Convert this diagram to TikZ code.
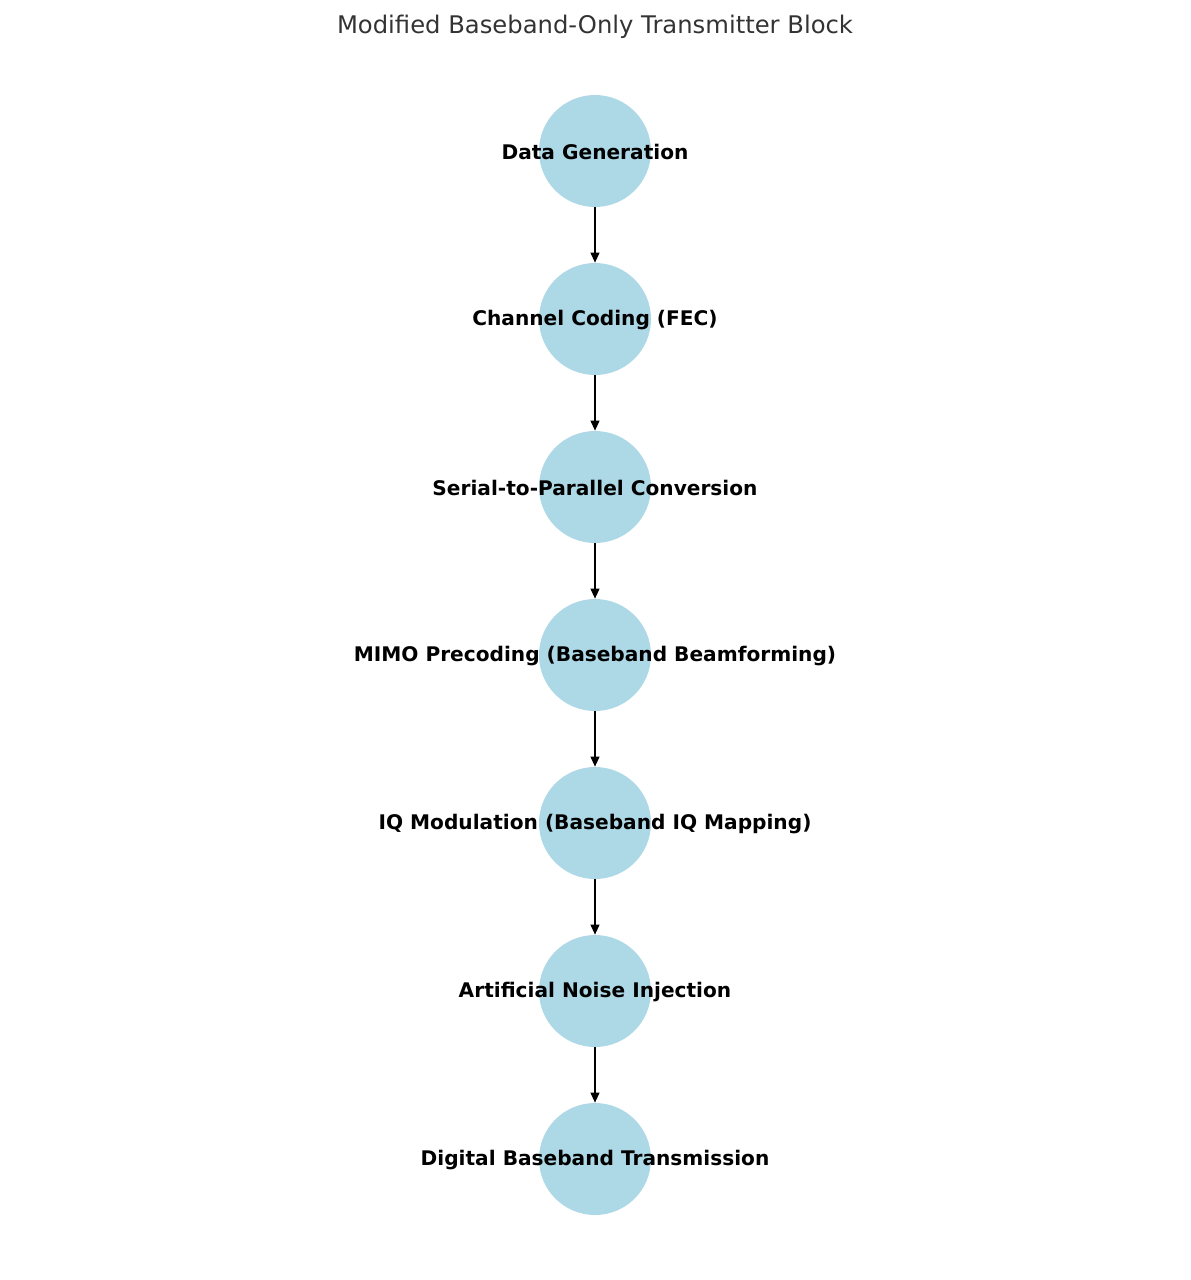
\documentclass[tikz,border=0pt]{standalone}
\usepackage{fontspec}
\setmainfont{DejaVu Sans}
\usetikzlibrary{arrows.meta}
\definecolor{lblue}{HTML}{ADD8E6}
\definecolor{titlegray}{HTML}{333333}
\begin{document}
\begin{tikzpicture}[x=0.75pt,y=-0.75pt,
  blob/.style={circle,fill=lblue,minimum size=84pt,inner sep=0pt},
  lbl/.style={font=\fontsize{15.1}{17}\selectfont\bfseries,text=black},
  conn/.style={-{Triangle[length=7.5pt,width=6.5pt]},line width=1.3pt,black}]
\useasboundingbox (0,0) rectangle (1190,1280);
\node[font=\fontsize{18.2}{21}\selectfont,text=titlegray] (title) at (595,27) {Modified Baseband-Only Transmitter Block};
\foreach \n/\yy in {a/151,b/319,c/487,d/655,e/823,f/991,g/1159}
  \node[blob] (\n) at (595,\yy) {};
\node[lbl] (ta) at (595,152) {Data Generation};
\node[lbl] (tb) at (595,320) {Channel Coding (FEC)};
\node[lbl] (tc) at (595,488) {Serial-to-Parallel Conversion};
\node[lbl] (td) at (595,656) {MIMO Precoding (Baseband Beamforming)};
\node[lbl] (te) at (595,824) {IQ Modulation (Baseband IQ Mapping)};
\node[lbl] (tf) at (595,992) {Artificial Noise Injection};
\node[lbl] (tg) at (595,1160) {Digital Baseband Transmission};
\draw[conn] (a.south) -- (b.north);
\draw[conn] (b.south) -- (c.north);
\draw[conn] (c.south) -- (d.north);
\draw[conn] (d.south) -- (e.north);
\draw[conn] (e.south) -- (f.north);
\draw[conn] (f.south) -- (g.north);
\end{tikzpicture}
\end{document}
